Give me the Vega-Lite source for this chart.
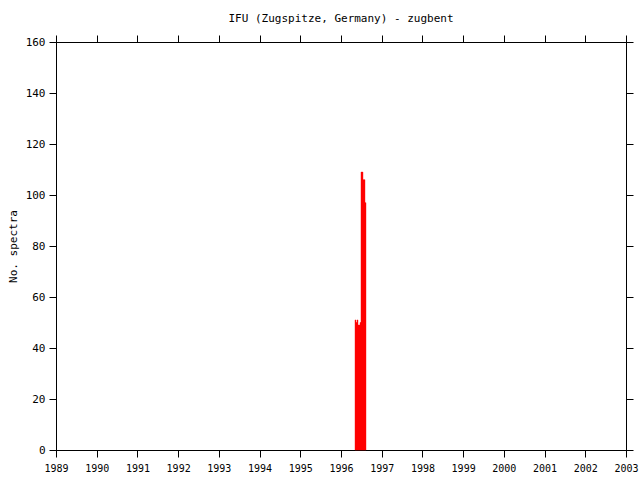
{
  "$schema": "https://vega.github.io/schema/vega-lite/v6.json",
  "autosize": "none",
  "width": 570,
  "height": 408,
  "padding": {"left": 56, "top": 42, "right": 14, "bottom": 30},
  "background": "white",
  "config": {
    "view": {"stroke": "black", "strokeWidth": 1},
    "font": "DejaVu Sans Mono",
    "axis": {"grid": false, "domainColor": "black", "tickColor": "black", "tickSize": 7, "labelColor": "black", "labelFont": "DejaVu Sans Mono", "labelFontSize": 11, "labelFlush": false, "labelOverlap": false, "titleFont": "DejaVu Sans Mono", "titleFontSize": 11, "titleFontWeight": "normal", "titleColor": "black"}
  },
  "title": {"text": "IFU (Zugspitze, Germany) - zugbent", "font": "DejaVu Sans Mono", "fontSize": 11, "fontWeight": "normal", "color": "black", "offset": 11},
  "data": {"values": [
    {"start": 1996.344, "end": 1996.368, "n": 51},
    {"start": 1996.368, "end": 1996.393, "n": 50},
    {"start": 1996.393, "end": 1996.417, "n": 51},
    {"start": 1996.417, "end": 1996.442, "n": 49},
    {"start": 1996.442, "end": 1996.467, "n": 49},
    {"start": 1996.467, "end": 1996.491, "n": 50},
    {"start": 1996.491, "end": 1996.516, "n": 109},
    {"start": 1996.516, "end": 1996.540, "n": 109},
    {"start": 1996.540, "end": 1996.565, "n": 106},
    {"start": 1996.565, "end": 1996.589, "n": 106},
    {"start": 1996.589, "end": 1996.614, "n": 97}
  ]},
  "layer": [
    {
      "mark": {"type": "bar", "color": "red", "stroke": "red", "strokeWidth": 0.4},
      "encoding": {
        "x": {"field": "start", "type": "quantitative", "scale": {"domain": [1989, 2003], "nice": false, "zero": false}, "axis": {"orient": "bottom", "values": [1989,1990,1991,1992,1993,1994,1995,1996,1997,1998,1999,2000,2001,2002,2003], "format": "d", "title": null, "labelPadding": 6, "labelFontSize": 10}},
        "x2": {"field": "end"},
        "y": {"field": "n", "type": "quantitative", "scale": {"domain": [0, 160], "nice": false}, "axis": {"orient": "left", "values": [0,20,40,60,80,100,120,140,160], "title": "No. spectra", "titlePadding": 7, "labelPadding": 4}},
        "y2": {"datum": 0}
      }
    },
    {
      "mark": {"type": "rule", "opacity": 0},
      "encoding": {
        "x": {"field": "start", "type": "quantitative", "scale": {"domain": [1989, 2003], "nice": false, "zero": false}, "axis": {"orient": "top", "values": [1989,1990,1991,1992,1993,1994,1995,1996,1997,1998,1999,2000,2001,2002,2003], "labels": false, "title": null}},
        "y": {"field": "n", "type": "quantitative", "scale": {"domain": [0, 160], "nice": false}, "axis": {"orient": "right", "values": [0,20,40,60,80,100,120,140,160], "labels": false, "title": null}}
      }
    }
  ],
  "resolve": {"axis": {"x": "independent", "y": "independent"}}
}
